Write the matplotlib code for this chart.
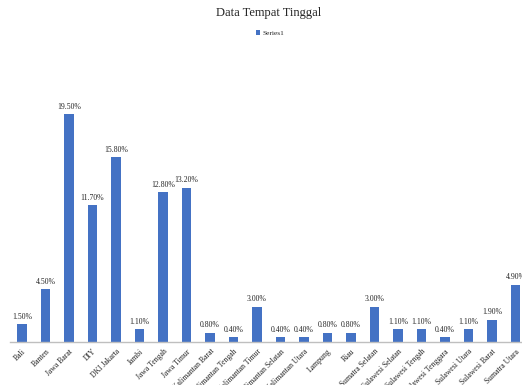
import matplotlib.pyplot as plt
import numpy as np

provinsi = ["Bali", "Banten", "Jawa Barat", "DIY", "DKI Jakarta", "Jambi",
            "Jawa Tengah", "Jawa Timur", "Kalimantan Barat", "Kalimantan Tengah",
            "Kalimantan Timur", "Kalimantan Selatan", "Kalimantan Utara",
            "Lampung", "Riau", "Sumatra Selatan", "Sulawesi Selatan",
            "Sulawesi Tengah", "Sulawesi Tenggara", "Sulawesi Utara",
            "Sulawesi Barat", "Sumatra Utara"]
persen = [1.5, 4.5, 19.5, 11.7, 15.8, 1.1, 12.8, 13.2, 0.8, 0.4, 3.0, 0.4,
          0.4, 0.8, 0.8, 3.0, 1.1, 1.1, 0.4, 1.1, 1.9, 4.9]

plt.rcParams['font.family'] = ['Liberation Serif', 'DejaVu Serif']
teks = "#262626"

fig = plt.figure(figsize=(5.22, 3.85), dpi=100)
# axes runs a bit past the right edge, the last category gets cut off
ax = fig.add_axes([10.25 / 522, 1 - 342 / 385, 517 / 522, 292 / 385])

x = np.arange(len(provinsi))
bars = ax.bar(x, persen, width=0.4, color="#4472C4", label="Series1")

for b, v in zip(bars, persen):
    ax.text(b.get_x() + b.get_width() / 2, v + 0.3, "%.2f%%" % v,
            ha="center", va="bottom", fontsize=5.6, color=teks)

ax.set_xlim(-0.5, len(provinsi) - 0.5)
ax.set_ylim(0, 25)
ax.set_xticks(x)
ax.set_xticklabels(provinsi, rotation=45, ha="right", rotation_mode="anchor",
                   fontsize=5.6, color=teks)
ax.tick_params(axis="x", length=0, pad=4)
ax.set_yticks([])
for s in ["top", "right", "left"]:
    ax.spines[s].set_visible(False)
ax.spines["bottom"].set_color("#bfbfbf")
ax.spines["bottom"].set_linewidth(1)

fig.text(269 / 522, 1 - 13 / 385, "Data Tempat Tinggal", ha="center", va="center",
         fontsize=9, color=teks)
fig.legend(loc="center", bbox_to_anchor=(270 / 522, 1 - 33 / 385), frameon=False,
           fontsize=5.3, handlelength=0.6, handleheight=0.6, handletextpad=0.3,
           labelcolor=teks)

plt.savefig("out.png", dpi=100)
